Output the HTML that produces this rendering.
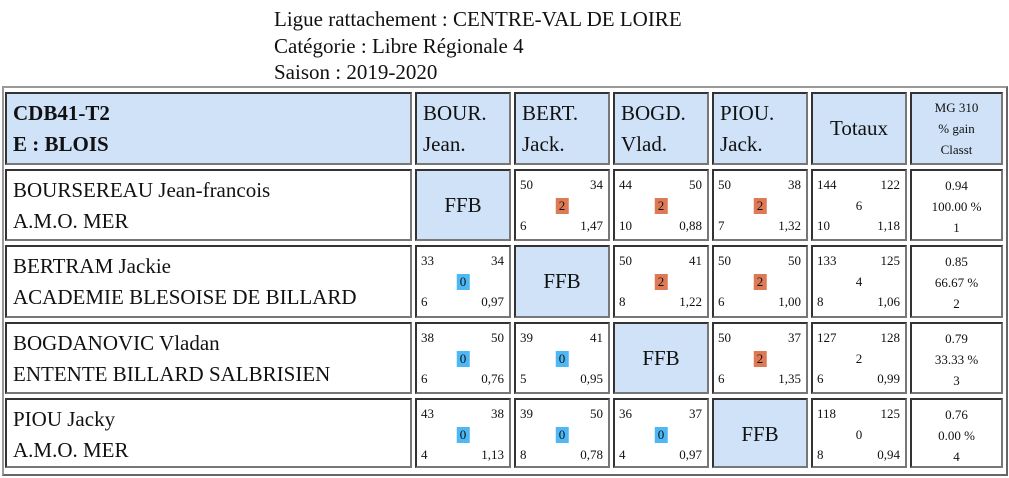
<!DOCTYPE html>
<html><head><meta charset="utf-8"><style>
body{margin:0;width:1009px;height:478px;background:#fff;font-family:"Liberation Serif",serif;color:#111;position:relative;overflow:hidden}
.t{position:absolute;left:274px;font-size:21px;line-height:26px}
#tbl{position:absolute;left:2px;top:86px;width:1002px;height:386px;border:2px solid #888;border-color:#999 #666 #666 #999}
.c{position:absolute;box-sizing:border-box;border:2px solid;border-color:#333 #777 #777 #333;background:#fff}
.h{background:#cfe2f8}
.big{font-size:21px;line-height:31px}
.s{position:absolute;font-size:13px;line-height:14px}
.bd{position:absolute;font-size:13px;line-height:16px;padding:0 3px;left:50%;transform:translateX(-50%)}
</style></head><body>
<div class="t" style="top:6px">Ligue rattachement : CENTRE-VAL DE LOIRE</div>
<div class="t" style="top:33px">Catégorie : Libre Régionale 4</div>
<div class="t" style="top:59px">Saison : 2019-2020</div>
<div id="tbl"></div>
<script>
const cols=[5,415,514,613,712,811,910,1006];
const rows=[92,169,245,322,398,472];
const heads=[["BOUR.","Jean."],["BERT.","Jack."],["BOGD.","Vlad."],["PIOU.","Jack."]];
const players=[["BOURSEREAU Jean-francois","A.M.O. MER"],["BERTRAM Jackie","ACADEMIE BLESOISE DE BILLARD"],["BOGDANOVIC Vladan","ENTENTE BILLARD SALBRISIEN"],["PIOU Jacky","A.M.O. MER"]];
// [pts, opp, result, innings, avg]
const games=[
[null,[50,34,2,6,"1,47"],[44,50,2,10,"0,88"],[50,38,2,7,"1,32"],[144,122,6,10,"1,18"]],
[[33,34,0,6,"0,97"],null,[50,41,2,8,"1,22"],[50,50,2,6,"1,00"],[133,125,4,8,"1,06"]],
[[38,50,0,6,"0,76"],[39,41,0,5,"0,95"],null,[50,37,2,6,"1,35"],[127,128,2,6,"0,99"]],
[[43,38,0,4,"1,13"],[39,50,0,8,"0,78"],[36,37,0,4,"0,97"],null,[118,125,0,8,"0,94"]]];
const mg=[["0.94","100.00 %","1"],["0.85","66.67 %","2"],["0.79","33.33 %","3"],["0.76","0.00 %","4"]];
function cell(ci,ri,cls){const d=document.createElement('div');d.className='c '+cls;
d.style.left=cols[ci]+'px';d.style.top=rows[ri]+'px';
d.style.width=(cols[ci+1]-cols[ci]-3)+'px';d.style.height=(rows[ri+1]-rows[ri]-4)+'px';
document.body.appendChild(d);return d;}
function span(p,txt,css,cls){const s=document.createElement('div');s.className=cls||'s';s.textContent=txt;s.style.cssText+=css;p.appendChild(s);return s;}
let d=cell(0,0,'h big');


d.style.padding='4px 6px';d.style.fontWeight='bold';d.innerHTML='CDB41-T2<br>E : BLOIS';
heads.forEach((h,i)=>{const e=cell(i+1,0,'h big');


e.style.padding='4px 6px';e.innerHTML=h[0]+'<br>'+h[1];});
d=cell(5,0,'h big');


d.style.textAlign='center';d.style.lineHeight='68px';d.textContent='Totaux';
d=cell(6,0,'h');


d.style.textAlign='center';d.style.fontSize='13px';d.style.lineHeight='21px';d.style.paddingTop='3px';d.innerHTML='MG 310<br>% gain<br>Classt';
players.forEach((p,r)=>{
 const e=cell(0,r+1,'big');
 
 
 e.style.padding='4px 6px';e.innerHTML=p[0]+'<br>'+p[1];
 games[r].forEach((g,c)=>{
  if(!g){const f=cell(c+1,r+1,'h big');
   
   
   f.style.textAlign='center';f.style.lineHeight='68px';f.textContent='FFB';return;}
  const k=cell(c+1,r+1,'');
  
  
  span(k,g[0],'left:4px;top:7px');span(k,g[1],'right:5px;top:7px');
  span(k,g[3],'left:4px;top:48px');span(k,g[4],'right:5px;top:48px');
  const b=span(k,g[2],'top:27px','bd');
  if(c<4)b.style.background=g[2]==2?'#dd7a55':'#4db8f4';
 });
 const m=cell(6,r+1,'');
 
 
 m.style.textAlign='center';m.style.fontSize='13px';m.style.lineHeight='21px';m.style.paddingTop='4px';
 m.innerHTML=mg[r].join('<br>');
});
</script>
</body></html>
